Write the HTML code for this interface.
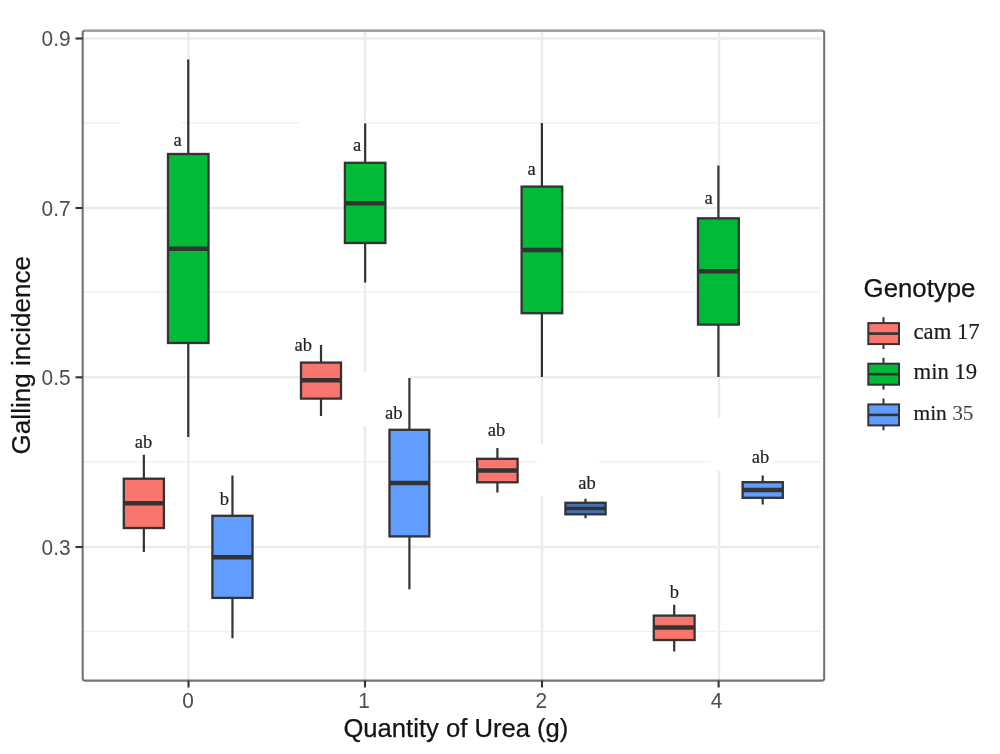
<!DOCTYPE html>
<html lang="en"><head><meta charset="utf-8"><title>Galling incidence by Quantity of Urea</title>
<style>html,body{margin:0;padding:0;background:#fff}svg{display:block;filter:blur(0.35px)}.ax{font-family:"Liberation Sans",sans-serif;font-size:22.2px;fill:#4d4d4d}.tt{font-family:"Liberation Sans",sans-serif;font-size:25.5px;fill:#141414;stroke:#141414;stroke-width:0.25px}.sg{font-family:"Liberation Serif",serif;font-size:18.5px;fill:#222;stroke:#222;stroke-width:0.2px}.lg{font-family:"Liberation Serif",serif;font-size:22.7px;fill:#1c1c1c;stroke:#1c1c1c;stroke-width:0.2px}</style></head><body>
<svg width="1000" height="754" viewBox="0 0 1000 754">
<rect width="1000" height="754" fill="#fff"/>
<g stroke="#f1f1f1" stroke-width="1.3">
<line x1="82.7" x2="821.2" y1="122.75" y2="122.75"/>
<line x1="82.7" x2="821.2" y1="292.25" y2="292.25"/>
<line x1="82.7" x2="821.2" y1="461.75" y2="461.75"/>
<line x1="82.7" x2="821.2" y1="631.3" y2="631.3"/>
</g><g stroke="#ececec" stroke-width="2.4">
<line x1="82.7" x2="821.2" y1="38.5" y2="38.5"/>
<line x1="82.7" x2="821.2" y1="208.0" y2="208.0"/>
<line x1="82.7" x2="821.2" y1="377.3" y2="377.3"/>
<line x1="82.7" x2="821.2" y1="547.0" y2="547.0"/>
<line x1="188.5" x2="188.5" y1="30.7" y2="680.6"/>
<line x1="365.0" x2="365.0" y1="30.7" y2="680.6"/>
<line x1="542.0" x2="542.0" y1="30.7" y2="680.6"/>
<line x1="719.0" x2="719.0" y1="30.7" y2="680.6"/>
</g>
<g fill="#fff">
<rect x="121" y="116" width="61" height="14"/>
<rect x="299" y="116" width="65" height="14"/>
<rect x="342.5" y="372" width="67.5" height="54"/>
<rect x="537.5" y="444" width="61" height="52"/>
<rect x="711" y="418" width="62" height="53"/>
</g>
<g stroke="#333333" stroke-linecap="butt"><line x1="143.85" x2="143.85" y1="454.8" y2="552.0" stroke-width="2.2"/><rect x="123.8" y="478.7" width="40.10" height="49.30" fill="#F8766D" stroke-width="2.3"/><line x1="123.8" x2="163.9" y1="503.3" y2="503.3" stroke-width="4.5"/></g>
<g stroke="#333333" stroke-linecap="butt"><line x1="188.25" x2="188.25" y1="59.5" y2="437.0" stroke-width="2.2"/><rect x="168.0" y="154.0" width="40.50" height="189.00" fill="#00BA38" stroke-width="2.3"/><line x1="168.0" x2="208.5" y1="248.75" y2="248.75" stroke-width="4.5"/></g>
<g stroke="#333333" stroke-linecap="butt"><line x1="232.45" x2="232.45" y1="475.5" y2="638.2" stroke-width="2.2"/><rect x="212.4" y="515.8" width="40.10" height="82.10" fill="#619CFF" stroke-width="2.3"/><line x1="212.4" x2="252.5" y1="557.3" y2="557.3" stroke-width="4.5"/></g>
<g stroke="#333333" stroke-linecap="butt"><line x1="321.00" x2="321.00" y1="345.0" y2="416.0" stroke-width="2.2"/><rect x="301.0" y="362.6" width="40.00" height="36.00" fill="#F8766D" stroke-width="2.3"/><line x1="301.0" x2="341.0" y1="380.2" y2="380.2" stroke-width="4.5"/></g>
<g stroke="#333333" stroke-linecap="butt"><line x1="365.15" x2="365.15" y1="123.4" y2="282.5" stroke-width="2.2"/><rect x="344.9" y="162.8" width="40.50" height="80.20" fill="#00BA38" stroke-width="2.3"/><line x1="344.9" x2="385.4" y1="203.3" y2="203.3" stroke-width="4.5"/></g>
<g stroke="#333333" stroke-linecap="butt"><line x1="409.40" x2="409.40" y1="378.0" y2="589.3" stroke-width="2.2"/><rect x="389.5" y="429.8" width="39.80" height="106.60" fill="#619CFF" stroke-width="2.3"/><line x1="389.5" x2="429.3" y1="483.0" y2="483.0" stroke-width="4.5"/></g>
<g stroke="#333333" stroke-linecap="butt"><line x1="497.40" x2="497.40" y1="448.0" y2="492.5" stroke-width="2.2"/><rect x="477.2" y="458.8" width="40.40" height="23.50" fill="#F8766D" stroke-width="2.3"/><line x1="477.2" x2="517.6" y1="470.4" y2="470.4" stroke-width="4.5"/></g>
<g stroke="#333333" stroke-linecap="butt"><line x1="541.90" x2="541.90" y1="123.0" y2="377.0" stroke-width="2.2"/><rect x="521.6" y="186.6" width="40.60" height="126.60" fill="#00BA38" stroke-width="2.3"/><line x1="521.6" x2="562.2" y1="250.0" y2="250.0" stroke-width="4.5"/></g>
<g stroke="#333333" stroke-linecap="butt"><line x1="585.50" x2="585.50" y1="498.75" y2="518.25" stroke-width="2.2"/><rect x="565.4" y="502.8" width="40.20" height="11.50" fill="#4470b4" stroke-width="2.3"/><line x1="565.4" x2="605.6" y1="508.5" y2="508.5" stroke-width="3.4"/></g>
<g stroke="#333333" stroke-linecap="butt"><line x1="674.20" x2="674.20" y1="604.75" y2="651.5" stroke-width="2.2"/><rect x="653.8" y="615.6" width="40.80" height="24.40" fill="#F8766D" stroke-width="2.3"/><line x1="653.8" x2="694.6" y1="627.4" y2="627.4" stroke-width="4.5"/></g>
<g stroke="#333333" stroke-linecap="butt"><line x1="718.40" x2="718.40" y1="165.5" y2="377.0" stroke-width="2.2"/><rect x="698.0" y="218.3" width="40.80" height="106.30" fill="#00BA38" stroke-width="2.3"/><line x1="698.0" x2="738.8" y1="271.3" y2="271.3" stroke-width="4.5"/></g>
<g stroke="#333333" stroke-linecap="butt"><line x1="762.70" x2="762.70" y1="475.5" y2="504.5" stroke-width="2.2"/><rect x="742.6" y="482.2" width="40.20" height="15.60" fill="#619CFF" stroke-width="2.3"/><line x1="742.6" x2="782.8" y1="490.0" y2="490.0" stroke-width="4.5"/></g>
<text class="sg" x="143.5" y="447.75" text-anchor="middle">ab</text>
<text class="sg" x="177.5" y="145.8" text-anchor="middle">a</text>
<text class="sg" x="224.4" y="504.75" text-anchor="middle">b</text>
<text class="sg" x="303.2" y="351.25" text-anchor="middle">ab</text>
<text class="sg" x="357.2" y="150.75" text-anchor="middle">a</text>
<text class="sg" x="393.8" y="418.8" text-anchor="middle">ab</text>
<text class="sg" x="496.5" y="436.25" text-anchor="middle">ab</text>
<text class="sg" x="531.6" y="174.5" text-anchor="middle">a</text>
<text class="sg" x="587.0" y="489.25" text-anchor="middle">ab</text>
<text class="sg" x="674.4" y="597.5" text-anchor="middle">b</text>
<text class="sg" x="708.5" y="203.75" text-anchor="middle">a</text>
<text class="sg" x="760.6" y="463.25" text-anchor="middle">ab</text>
<rect x="82.7" y="30.7" width="741.5" height="649.9" rx="2" ry="2" fill="none" stroke="#747474" stroke-width="2.1"/>
<line x1="84.7" x2="822.2" y1="30.7" y2="30.7" stroke="#a4a4a4" stroke-width="2.5"/>
<g stroke="#333" stroke-width="2.1">
<line x1="75.5" x2="82.7" y1="38.5" y2="38.5"/>
<line x1="75.5" x2="82.7" y1="208.0" y2="208.0"/>
<line x1="75.5" x2="82.7" y1="377.3" y2="377.3"/>
<line x1="75.5" x2="82.7" y1="547.0" y2="547.0"/>
<line x1="188.5" x2="188.5" y1="680.6" y2="687.5"/>
<line x1="365.0" x2="365.0" y1="680.6" y2="687.5"/>
<line x1="542.0" x2="542.0" y1="680.6" y2="687.5"/>
<line x1="718.6" x2="718.6" y1="680.6" y2="687.5"/>
</g>
<text class="ax" x="41.6" y="46.1" textLength="29.0" lengthAdjust="spacingAndGlyphs">0.9</text>
<text class="ax" x="41.6" y="216.1" textLength="29.0" lengthAdjust="spacingAndGlyphs">0.7</text>
<text class="ax" x="41.6" y="384.7" textLength="29.0" lengthAdjust="spacingAndGlyphs">0.5</text>
<text class="ax" x="41.6" y="554.7" textLength="29.0" lengthAdjust="spacingAndGlyphs">0.3</text>
<text class="ax" x="182.2" y="708.3" textLength="11.6" lengthAdjust="spacingAndGlyphs">0</text>
<text class="ax" x="358.2" y="708.3" textLength="11.6" lengthAdjust="spacingAndGlyphs">1</text>
<text class="ax" x="535.5" y="708.3" textLength="11.6" lengthAdjust="spacingAndGlyphs">2</text>
<text class="ax" x="710.7" y="708.3" textLength="11.6" lengthAdjust="spacingAndGlyphs">4</text>
<text class="tt" x="343.4" y="737" textLength="225" lengthAdjust="spacingAndGlyphs">Quantity of Urea (g)</text>
<text class="tt" transform="translate(30.1,454.4) rotate(-90)" style="font-size:26px" textLength="198.5" lengthAdjust="spacingAndGlyphs">Galling incidence</text>
<text class="tt" x="863.6" y="297.3" style="font-size:26px" textLength="111.8" lengthAdjust="spacingAndGlyphs">Genotype</text>
<g stroke="#333333"><line x1="883.5" x2="883.5" y1="317.2" y2="349.0" stroke-width="2"/><rect x="868.3" y="323.09999999999997" width="30.7" height="21" fill="#F8766D" stroke-width="2"/><line x1="868.3" x2="899" y1="333.59999999999997" y2="333.59999999999997" stroke-width="2.6"/></g>
<text class="lg" x="913.5" y="339.0">cam 17</text>
<g stroke="#333333"><line x1="883.5" x2="883.5" y1="357.8" y2="389.6" stroke-width="2"/><rect x="868.3" y="363.7" width="30.7" height="21" fill="#00BA38" stroke-width="2"/><line x1="868.3" x2="899" y1="374.2" y2="374.2" stroke-width="2.6"/></g>
<text class="lg" x="913.5" y="378.7">min 19</text>
<g stroke="#333333"><line x1="883.5" x2="883.5" y1="398.5" y2="430.3" stroke-width="2"/><rect x="868.3" y="404.4" width="30.7" height="21" fill="#619CFF" stroke-width="2"/><line x1="868.3" x2="899" y1="414.9" y2="414.9" stroke-width="2.6"/></g>
<text class="lg" x="913.5" y="419.7"><tspan style="font-size:21.4px">min </tspan><tspan style="font-size:21.4px;fill:#444;stroke:none">35</tspan></text>
</svg></body></html>
